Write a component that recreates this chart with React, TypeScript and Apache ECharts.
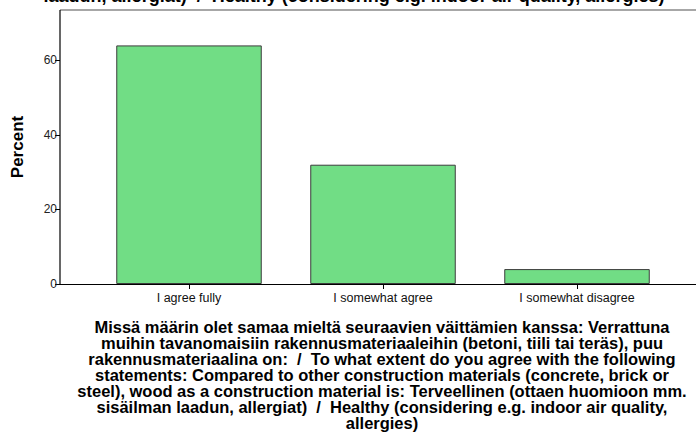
import React, { useEffect, useRef } from "react";
import * as echarts from "echarts";

const categories = ["I agree fully", "I somewhat agree", "I somewhat disagree"];
const percentValues = [64, 32, 4];
const yTicks = [0, 20, 40, 60];
const yAxisTitle = "Percent";
const topTitleTail = "laadun, allergiat)  /  Healthy (considering e.g. indoor air quality, allergies)";
const xAxisTitleLines = [
  "Missä määrin olet samaa mieltä seuraavien väittämien kanssa: Verrattuna",
  "muihin tavanomaisiin rakennusmateriaaleihin (betoni, tiili tai teräs), puu",
  "rakennusmateriaalina on:  /  To what extent do you agree with the following",
  "statements: Compared to other construction materials (concrete, brick or",
  "steel), wood as a construction material is: Terveellinen (ottaen huomioon mm.",
  "sisäilman laadun, allergiat)  /  Healthy (considering e.g. indoor air quality,",
  "allergies)",
];

const FONT = "'Liberation Sans', Arial, sans-serif";

export default function App() {
  const ref = useRef<HTMLDivElement>(null);
  useEffect(() => {
    if (!ref.current) return;
    const chart = echarts.init(ref.current, null, { renderer: "svg" });
    chart.setOption({
      animation: false,
      backgroundColor: "#ffffff",
      grid: { left: 92, right: 22, top: 10, bottom: 155, containLabel: false },
      xAxis: {
        type: "category",
        data: categories,
        axisLine: { show: false },
        axisTick: { show: true, alignWithLabel: true, length: 5, lineStyle: { color: "#000", width: 1 } },
        axisLabel: { color: "#111", fontSize: 12.5, fontFamily: FONT, margin: 7 },
      },
      yAxis: {
        type: "value",
        min: 0,
        max: 73.5,
        interval: 20,
        offset: 32,
        splitLine: { show: false },
        axisLine: { show: false },
        axisTick: { show: true, length: 5, customValues: yTicks, lineStyle: { color: "#000", width: 1 } },
        axisLabel: {
          color: "#222",
          fontSize: 12,
          fontFamily: FONT,
          margin: 3,
          customValues: yTicks,
          formatter: (v: number) => (yTicks.includes(v) ? String(v) : ""),
        },
      },
      series: [
        {
          type: "bar",
          data: percentValues,
          barCategoryGap: "25%",
          itemStyle: { color: "#71dd85", borderColor: "#3c3c3c", borderWidth: 1 },
        },
      ],
      graphic: [
        { type: "line", shape: { x1: 60, y1: 10, x2: 696, y2: 10 }, style: { stroke: "#8a8a8a", lineWidth: 1.5 }, z: 10 },
        { type: "line", shape: { x1: 60, y1: 10, x2: 60, y2: 284.5 }, style: { stroke: "#000", lineWidth: 1.2 }, z: 10 },
        { type: "line", shape: { x1: 60, y1: 284.5, x2: 696, y2: 284.5 }, style: { stroke: "#000", lineWidth: 1.2 }, z: 10 },
        {
          type: "text",
          x: 354,
          y: -13,
          style: { text: topTitleTail, fontSize: 18, fontWeight: "bold", fontFamily: FONT, fill: "#000", align: "center", verticalAlign: "top" },
        },
        {
          type: "text",
          x: 17,
          y: 147,
          rotation: Math.PI / 2,
          style: { text: yAxisTitle, fontSize: 17, fontWeight: "bold", fontFamily: FONT, fill: "#000", align: "center", verticalAlign: "middle" },
        },
        {
          type: "text",
          x: 382,
          y: 319,
          scaleX: 1.03,
          style: {
            text: xAxisTitleLines.join("\n"),
            fontSize: 16,
            fontWeight: "bold",
            fontFamily: FONT,
            fill: "#000",
            align: "center",
            verticalAlign: "top",
            lineHeight: 16,
          },
        },
      ],
    });
    return () => chart.dispose();
  }, []);
  return <div ref={ref} style={{ width: 696, height: 439, position: "fixed", left: 0, top: 0 }} />;
}
